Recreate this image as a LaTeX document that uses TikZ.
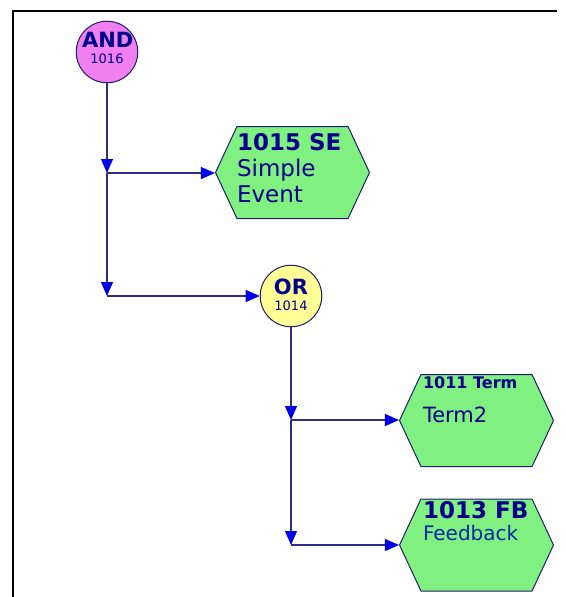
\documentclass[tikz,border=0pt]{standalone}
\usepackage{fontspec}
\setmainfont{DejaVu Sans}
\usetikzlibrary{arrows.meta,shapes.symbols}

\definecolor{andpink}{RGB}{240,128,240}
\definecolor{oryellow}{RGB}{255,255,150}
\definecolor{evgreen}{RGB}{128,240,128}
\definecolor{edgeblue}{RGB}{30,30,110}
\definecolor{linkblue}{RGB}{45,45,130}
\definecolor{tipblue}{RGB}{0,0,230}
\definecolor{txtblue}{RGB}{0,0,140}
\definecolor{lblblue}{RGB}{0,40,165}

\newcommand{\gatetext}[3][-2pt]{\parbox[c][36pt][t]{50pt}{\vspace*{#1}\centering
  \fontsize{21}{21}\selectfont\bfseries #2\\[3pt]
  \fontsize{13}{13}\selectfont\mdseries #3}}
\newcommand{\eventtext}[4]{\parbox[c][#1pt][t]{#2pt}{\raggedright
  \fontsize{#3}{#3}\selectfont #4}}

\tikzset{
  gate/.style={circle, draw=edgeblue, line width=1pt, minimum size=61pt,
    inner sep=0pt, text=txtblue},
  event/.style={signal, signal to=west and east, signal pointer angle=130,
    draw=edgeblue, fill=evgreen, line width=1pt, minimum width=154pt,
    minimum height=92pt, inner sep=0pt, text=txtblue},
  link/.style={draw=linkblue, line width=1.3pt},
  tip/.style={-{Triangle[length=14pt,width=12pt,color=tipblue]}},
}

\begin{document}
\begin{tikzpicture}[x=1pt,y=-1pt]
\useasboundingbox (0,0) rectangle (565,597);
\draw[line width=2pt] (557,11) -- (13,11) -- (13,597);

\node[gate, fill=andpink] (and) at (107,52) {\gatetext{AND}{1016}};
\node[event] (se) at (292.5,172.5)
  {\eventtext{79}{111}{23}{\textbf{1015 SE}\\[3pt]Simple\\[3pt]Event}};
\node[gate, fill=oryellow] (or) at (291,296) {\gatetext[1pt]{OR}{1014}};
\node[event] (term) at (476.5,420.5)
  {\eventtext{87}{107}{21}{{\fontsize{16}{16}\selectfont\textbf{1011 Term}}\\[13pt]Term2}};
\node[event] (fb) at (476.5,545)
  {\eventtext{88}{107}{20}{{\fontsize{23}{23}\selectfont\textbf{1013 FB}}\\[2pt]\color{lblblue}Feedback}};

\coordinate (b1) at (107,173);
\coordinate (b2) at (107,296);
\coordinate (b3) at (291,420);
\coordinate (b4) at (291,545);

\draw[link,tip] (and.south) -- (b1);
\draw[link,tip] (b1) -- (b1 -| se.west);
\draw[link,tip] (b1) -- (b2);
\draw[link,tip] (b2) -- (or.west);
\draw[link,tip] (or.south) -- (b3);
\draw[link,tip] (b3) -- (b3 -| term.west);
\draw[link,tip] (b3) -- (b4);
\draw[link,tip] (b4) -- (b4 -| fb.west);
\end{tikzpicture}
\end{document}
